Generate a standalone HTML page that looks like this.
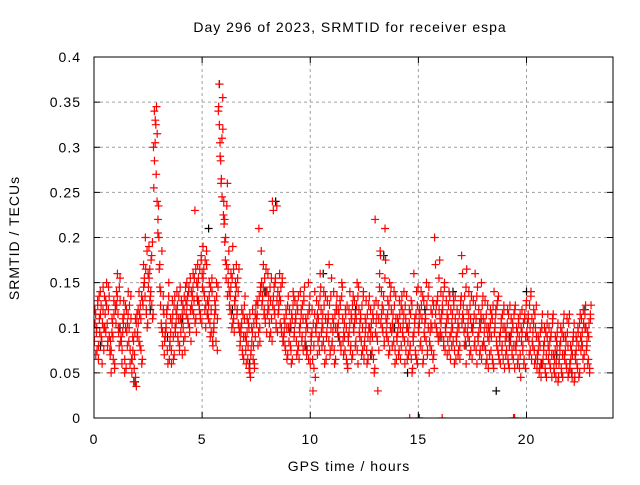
<!DOCTYPE html>
<html><head><meta charset="utf-8"><style>
body{margin:0;background:#fff}
svg text{font-family:"Liberation Sans",sans-serif;font-size:14px;letter-spacing:1px;fill:#000}
</style></head><body>
<svg id="chart" width="640" height="480">
<defs><clipPath id="pa"><rect x="94" y="57" width="519" height="361"/></clipPath></defs>
<rect width="640" height="480" fill="#fff"/>
<g id="grid"></g>
<g id="pts" clip-path="url(#pa)"></g>
<rect x="94" y="57" width="519" height="361" fill="none" stroke="#000"/>
<g id="axes"></g>
<text x="350" y="32" text-anchor="middle">Day 296 of 2023, SRMTID for receiver espa</text>
<text x="349" y="471" text-anchor="middle">GPS time / hours</text>
<text transform="translate(19,238) rotate(-90)" text-anchor="middle">SRMTID / TECUs</text>
</svg>
<script>
const xTicks=[0,5,10,15,20];
const yTicks=[0,0.05,0.1,0.15,0.2,0.25,0.3,0.35,0.4];
const yTickLabels=["0","0.05","0.1","0.15","0.2","0.25","0.3","0.35","0.4"];
const binWidth=0.25;
const redBins=[
[.09,.12,.07,.10,.13,.08],[.11,.14,.09,.06,.12,.10],[.10,.13,.15,.08,.12,.09],[.07,.05,.11,.09,.13,.06],
[.12,.14,.16,.10,.08,.13],[.09,.06,.11,.13,.05,.10],[.12,.08,.14,.10,.06,.11],[.05,.09,.04,.07,.11,.035],
[.09,.12,.14,.08,.11,.06],[.13,.17,.15,.20,.12,.10],[.16,.19,.13,.14,.18,.11],[.30,.34,.33,.27,.24,.22],
[.20,.17,.14,.10,.08,.12],[.07,.09,.10,.12,.06,.15],[.08,.11,.06,.13,.09,.07],[.10,.12,.14,.09,.11,.08],
[.11,.13,.07,.10,.12,.09],[.13,.15,.11,.14,.10,.12],[.14,.12,.16,.13,.23,.11],[.15,.17,.13,.12,.11,.18],
[.16,.19,.14,.12,.10,.17],[.13,.11,.15,.09,.12,.14],[.08,.10,.13,.12,.15,.11],[.34,.37,.29,.26,.31,.32],
[.24,.22,.20,.17,.26,.15],[.14,.12,.16,.10,.19,.11],[.13,.15,.17,.12,.14,.10],[.08,.10,.12,.07,.09,.11],
[.09,.06,.11,.08,.10,.05],[.07,.10,.12,.08,.06,.09],[.11,.13,.08,.21,.10,.14],[.15,.13,.17,.12,.11,.14],
[.14,.16,.12,.09,.13,.11],[.24,.23,.12,.15,.10,.13],[.14,.12,.16,.13,.10,.15],[.09,.11,.08,.12,.10,.07],
[.10,.12,.08,.06,.11,.14],[.09,.13,.11,.07,.12,.08],[.10,.14,.12,.09,.11,.13],[.08,.11,.07,.10,.15,.12],
[.06,.09,.12,.03,.08,.14],[.10,.13,.07,.11,.09,.16],[.12,.08,.10,.14,.06,.11],[.09,.13,.11,.17,.07,.10],
[.08,.11,.14,.06,.10,.12],[.10,.12,.09,.13,.08,.15],[.11,.07,.09,.12,.10,.06],[.09,.12,.14,.08,.11,.07],
[.10,.13,.08,.11,.15,.06],[.12,.09,.11,.07,.10,.14],[.08,.11,.13,.06,.09,.10],[.10,.12,.07,.09,.11,.05],
[.22,.13,.09,.03,.11,.16],[.18,.14,.10,.12,.08,.21],[.11,.09,.13,.07,.15,.10],[.12,.08,.10,.14,.06,.11],
[.09,.11,.07,.13,.10,.08],[.12,.09,.14,.06,.11,.10],[.10,.07,.12,.08,.13,.05],[.09,.16,.11,.07,.14,.06],
[.10,.12,.08,.14,.11,.06],[.13,.09,.11,.15,.07,.10],[.05,.08,.12,.10,.13,.07],[.20,.17,.10,.13,.09,.12],
[.11,.14,.09,.12,.08,.15],[.10,.13,.07,.11,.14,.09],[.12,.08,.10,.13,.06,.11],[.09,.12,.07,.10,.08,.13],
[.18,.16,.11,.08,.10,.06],[.12,.09,.14,.07,.11,.10],[.10,.13,.08,.16,.11,.06],[.09,.12,.07,.10,.15,.08],
[.11,.08,.13,.06,.10,.09],[.10,.07,.12,.09,.11,.06],[.14,.10,.12,.08,.13,.07],[.09,.06,.11,.08,.10,.12],
[.10,.07,.09,.12,.06,.08],[.09,.11,.07,.10,.08,.12],[.08,.10,.06,.11,.09,.07],[.10,.12,.08,.06,.11,.09],
[.13,.09,.11,.07,.10,.14],[.11,.08,.12,.06,.10,.09],[.07,.09,.05,.08,.06,.10],[.06,.08,.10,.05,.07,.09],
[.08,.10,.06,.09,.07,.11],[.07,.05,.09,.06,.08,.04],[.06,.08,.10,.05,.07,.09],[.07,.09,.06,.11,.08,.05],
[.06,.08,.05,.07,.09,.04],[.07,.09,.06,.10,.08,.05],[.09,.11,.08,.12,.07,.10],[.10,.08,.06,.09,.05,.11]];
const redBins2=[
[.085,.105,.115,.095,.075,.125,.065,.135],[.095,.115,.125,.085,.105,.145,.075,.135],[.115,.095,.125,.105,.085,.145,.135,.075],[.085,.075,.095,.105,.065,.115,.055,.125],
[.105,.125,.135,.115,.095,.145,.155,.085],[.085,.075,.095,.105,.115,.065,.125,.055],[.095,.105,.115,.085,.125,.075,.135,.065],[.065,.075,.085,.055,.095,.045,.105,.115],
[.095,.105,.085,.115,.125,.075,.135,.065],[.125,.145,.155,.135,.165,.115,.185,.105],[.145,.155,.165,.135,.175,.125,.195,.115],[.255,.285,.305,.325,.345,.315,.205,.235],
[.165,.145,.125,.105,.185,.095,.135,.115],[.085,.095,.105,.115,.075,.125,.135,.065],[.085,.095,.075,.105,.115,.065,.125,.135],[.095,.105,.115,.125,.085,.135,.075,.145],
[.095,.105,.115,.125,.085,.135,.075,.145],[.115,.125,.135,.105,.145,.095,.155,.085],[.125,.135,.145,.115,.155,.105,.165,.095],[.135,.145,.155,.125,.165,.115,.175,.105],
[.145,.155,.165,.135,.175,.125,.185,.115],[.115,.125,.135,.105,.145,.095,.155,.085],[.095,.105,.115,.125,.085,.135,.075,.145],[.345,.325,.305,.285,.265,.245,.355,.225],
[.215,.195,.175,.155,.235,.135,.165,.185],[.125,.135,.145,.115,.155,.105,.165,.095],[.125,.135,.145,.115,.155,.105,.165,.095],[.085,.095,.105,.075,.115,.065,.125,.135],
[.075,.085,.095,.065,.105,.055,.115,.045],[.075,.085,.095,.065,.105,.055,.115,.125],[.105,.115,.125,.095,.135,.085,.145,.185],[.125,.135,.145,.115,.155,.105,.165,.095],
[.115,.125,.135,.105,.145,.095,.155,.085],[.125,.135,.145,.115,.155,.105,.235,.095],[.115,.125,.135,.105,.145,.095,.155,.085],[.085,.095,.105,.075,.115,.065,.125,.135],
[.085,.095,.105,.075,.115,.065,.125,.135],[.095,.105,.115,.085,.125,.075,.135,.065],[.095,.105,.115,.085,.125,.075,.135,.145],[.085,.095,.105,.075,.115,.065,.125,.135],
[.075,.085,.095,.065,.105,.055,.115,.045],[.095,.105,.115,.085,.125,.075,.135,.145],[.095,.105,.115,.085,.125,.075,.135,.065],[.095,.105,.115,.085,.125,.075,.135,.155],
[.085,.095,.105,.075,.115,.065,.125,.135],[.095,.105,.115,.085,.125,.075,.135,.145],[.085,.095,.105,.075,.115,.065,.125,.055],[.085,.095,.105,.075,.115,.065,.125,.135],
[.095,.105,.115,.085,.125,.075,.135,.145],[.095,.105,.115,.085,.125,.075,.135,.065],[.085,.095,.105,.075,.115,.065,.125,.135],[.085,.095,.105,.075,.115,.065,.125,.055],
[.095,.105,.115,.085,.125,.075,.145,.185],[.105,.115,.125,.095,.135,.085,.155,.175],[.095,.105,.115,.085,.125,.075,.135,.145],[.095,.105,.115,.085,.125,.075,.135,.065],
[.085,.095,.105,.075,.115,.065,.125,.135],[.095,.105,.115,.085,.125,.075,.135,.065],[.085,.095,.105,.075,.115,.065,.125,.055],[.085,.095,.105,.075,.115,.065,.125,.145],
[.095,.105,.115,.085,.125,.075,.135,.065],[.095,.105,.115,.085,.125,.075,.135,.145],[.085,.095,.105,.075,.115,.065,.125,.055],[.105,.115,.125,.095,.135,.085,.155,.175],
[.095,.105,.115,.125,.135,.085,.145,.075],[.095,.105,.115,.085,.125,.075,.135,.065],[.095,.105,.115,.085,.125,.075,.135,.065],[.085,.095,.105,.075,.115,.065,.125,.135],
[.105,.115,.125,.095,.135,.085,.145,.165],[.095,.105,.115,.085,.125,.075,.135,.065],[.095,.105,.115,.085,.125,.075,.135,.145],[.085,.095,.105,.075,.115,.065,.125,.135],
[.085,.095,.105,.075,.115,.065,.125,.055],[.085,.095,.105,.075,.115,.065,.125,.055],[.095,.105,.115,.085,.125,.075,.135,.065],[.085,.095,.105,.075,.115,.065,.125,.055],
[.085,.095,.075,.105,.065,.115,.055,.125],[.085,.095,.075,.105,.065,.115,.055,.125],[.075,.085,.095,.065,.105,.055,.115,.045],[.085,.095,.075,.105,.065,.115,.055,.125],
[.095,.105,.115,.085,.125,.075,.135,.065],[.085,.095,.105,.075,.115,.065,.125,.055],[.065,.075,.085,.055,.095,.045,.105,.115],[.065,.075,.085,.055,.095,.045,.105,.115],
[.065,.075,.085,.055,.095,.045,.105,.115],[.055,.065,.075,.045,.085,.095,.105,.045],[.065,.075,.085,.055,.095,.045,.105,.115],[.065,.075,.085,.055,.095,.045,.105,.115],
[.055,.065,.075,.045,.085,.095,.105,.045],[.065,.075,.085,.055,.095,.045,.105,.115],[.075,.085,.095,.065,.105,.055,.115,.125],[.075,.085,.095,.065,.105,.055,.115,.125]];
const zeroTimes=[14.6,15.0,15.05,16.1,19.4,19.45];
const blackTimes=[0.3,1.2,1.9,2.6,3.4,4.1,4.8,5.3,5.8,6.4,7.2,7.9,8.4,9.1,9.8,10.6,11.3,12.1,12.8,13.4,13.9,14.5,15.3,16.0,16.6,17.2,17.9,18.6,19.2,20.0,20.7,21.4,22.1,22.7];
const blackValues=[.08,.10,.04,.12,.09,.11,.13,.21,.37,.12,.06,.14,.24,.10,.08,.16,.09,.12,.07,.18,.10,.05,.12,.09,.14,.08,.11,.03,.09,.14,.06,.07,.05,.12];
const X=t=>94+t*519/24;
const Y=v=>418-v*361/0.4;
const NS="http://www.w3.org/2000/svg";
const grid=document.getElementById('grid'),axes=document.getElementById('axes'),pts=document.getElementById('pts');
function mk(tag,at,par){const e=document.createElementNS(NS,tag);for(const k in at)e.setAttribute(k,at[k]);par.appendChild(e);return e;}
xTicks.forEach(t=>{
 if(t>0){const g=mk('line',{x1:X(t),x2:X(t),y1:57,y2:418,stroke:'#a0a0a0','stroke-dasharray':'3,3'},grid);
 
 }
 mk('line',{x1:X(t),x2:X(t),y1:418,y2:412,stroke:'#000'},axes);
 mk('line',{x1:X(t),x2:X(t),y1:57,y2:63,stroke:'#000'},axes);
 const l=mk('text',{x:X(t),y:444,'text-anchor':'middle'},axes);l.textContent=t;
 
 
});
yTicks.forEach((v,i)=>{
 if(v>0&&v<0.4){const g=mk('line',{x1:94,x2:613,y1:Y(v),y2:Y(v),stroke:'#a0a0a0','stroke-dasharray':'3,3'},grid);
 
 }
 mk('line',{x1:94,x2:100,y1:Y(v),y2:Y(v),stroke:'#000'},axes);
 mk('line',{x1:613,x2:607,y1:Y(v),y2:Y(v),stroke:'#000'},axes);
 const l=mk('text',{x:81,y:Y(v)+5,'text-anchor':'end'},axes);l.textContent=yTickLabels[i];
 
 
});
function plus(t,v,c,name){
 const x=X(t),y=Y(v);
 const p=mk('path',{d:`M${x-4},${y}h8M${x},${y-4}v8`,stroke:c,'stroke-width':1.2,fill:'none'},pts);
 
 
}
blackTimes.forEach((t,i)=>plus(t,blackValues[i],'#000','black-point'));
redBins.forEach((bin,b)=>bin.forEach((v,j)=>plus(b*binWidth+j*binWidth/bin.length,v,'#ff0000','red-point')));
redBins2.forEach((bin,b)=>bin.forEach((v,j)=>plus(b*binWidth+(j+0.5)*binWidth/bin.length,v,'#ff0000','red-point')));
zeroTimes.forEach(t=>plus(t,0,'#ff0000','red-zero-point'));
</script>
</body></html>
